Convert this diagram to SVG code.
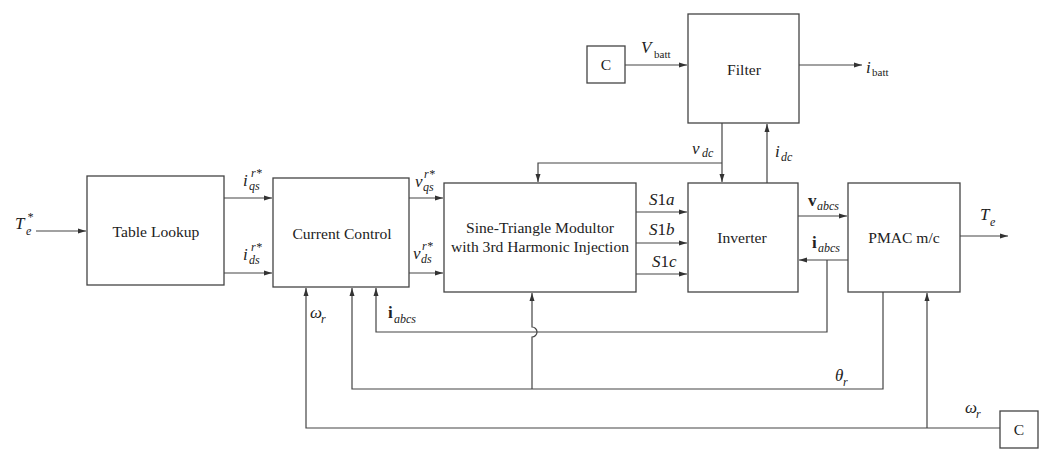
<svg xmlns="http://www.w3.org/2000/svg" width="1048" height="467" viewBox="0 0 1048 467">
<style>
.box{fill:#fff;stroke:#444;stroke-width:1.3}
.ln{fill:none;stroke:#444;stroke-width:1.2}
.t{font-family:"Liberation Serif","Times New Roman","DejaVu Serif",serif;font-size:15.6px;fill:#222;text-anchor:middle}
.m{font-family:"Liberation Serif","Times New Roman","DejaVu Serif",serif;font-style:italic;font-size:17px;fill:#222}
.s{font-family:"Liberation Serif","Times New Roman","DejaVu Serif",serif;font-style:italic;font-size:12px;fill:#222}
.r{font-family:"Liberation Serif","Times New Roman","DejaVu Serif",serif;font-size:11px;fill:#222}
.b{font-family:"Liberation Serif","Times New Roman","DejaVu Serif",serif;font-weight:bold;font-size:17px;fill:#222}
</style>
<defs>
<marker id="ah" markerUnits="userSpaceOnUse" markerWidth="9" markerHeight="6" refX="8" refY="3" orient="auto">
<path d="M0,0.5 L8,3 L0,5.5 z" fill="#333"/>
</marker>
</defs>
<g id="connectors">
<path class="ln" d="M36,231 H86" marker-end="url(#ah)"/>
<path class="ln" d="M224,198 H272" marker-end="url(#ah)"/>
<path class="ln" d="M224,273 H272" marker-end="url(#ah)"/>
<path class="ln" d="M409,198 H443" marker-end="url(#ah)"/>
<path class="ln" d="M409,273 H443" marker-end="url(#ah)"/>
<path class="ln" d="M636,212 H687" marker-end="url(#ah)"/>
<path class="ln" d="M636,243 H687" marker-end="url(#ah)"/>
<path class="ln" d="M636,274 H687" marker-end="url(#ah)"/>
<path class="ln" d="M798,216 H847" marker-end="url(#ah)"/>
<path class="ln" d="M848,260 H799" marker-end="url(#ah)"/>
<path class="ln" d="M960,236 H1008" marker-end="url(#ah)"/>
<path class="ln" d="M625,65 H687" marker-end="url(#ah)"/>
<path class="ln" d="M799,65 H862" marker-end="url(#ah)"/>
<path class="ln" d="M722,123 V182" marker-end="url(#ah)"/>
<path class="ln" d="M722,163 H538 V182" marker-end="url(#ah)"/>
<path class="ln" d="M767,183 V124" marker-end="url(#ah)"/>
<path class="ln" d="M827,260 V332 H376 V288" marker-end="url(#ah)"/>
<path class="ln" d="M883,292 V389 H352 V288" marker-end="url(#ah)"/>
<path class="ln" d="M532,389 V337 A5,5 0 0 0 532,327 V293" marker-end="url(#ah)"/>
<path class="ln" d="M1000,428 H306 V288" marker-end="url(#ah)"/>
<path class="ln" d="M927,428 V293" marker-end="url(#ah)"/>
</g>
<g id="table-lookup"><rect class="box" x="87" y="176" width="137" height="109"/><text class="t" x="156" y="237">Table Lookup</text></g>
<g id="current-control"><rect class="box" x="273" y="178" width="136" height="109"/><text class="t" x="342" y="239">Current Control</text></g>
<g id="sine-triangle"><rect class="box" x="444" y="183" width="192" height="109"/><text class="t" x="540" y="233">Sine-Triangle Modultor</text><text class="t" x="540" y="252">with 3rd Harmonic Injection</text></g>
<g id="inverter"><rect class="box" x="688" y="183" width="110" height="109"/><text class="t" x="742" y="243">Inverter</text></g>
<g id="pmac"><rect class="box" x="848" y="183" width="112" height="109"/><text class="t" x="904" y="243">PMAC m/c</text></g>
<g id="filter"><rect class="box" x="688" y="14" width="111" height="109"/><text class="t" x="744" y="75">Filter</text></g>
<g id="c-top"><rect class="box" x="587" y="46" width="38" height="37"/><text class="t" x="606" y="70">C</text></g>
<g id="c-bottom"><rect class="box" x="1000" y="411" width="38" height="37"/><text class="t" x="1019" y="435">C</text></g>
<g id="labels">
<text class="m" x="15" y="229">T</text><text class="s" x="27" y="221">*</text><text class="s" x="26" y="235">e</text>
<text class="m" x="243" y="186">i</text><text class="s" x="251" y="177">r*</text><text class="s" x="249" y="190">qs</text>
<text class="m" x="243" y="260">i</text><text class="s" x="251" y="251">r*</text><text class="s" x="249" y="264">ds</text>
<text class="m" x="415" y="187">v</text><text class="s" x="424" y="178">r*</text><text class="s" x="423" y="191">qs</text>
<text class="m" x="413" y="259">v</text><text class="s" x="422" y="250">r*</text><text class="s" x="421" y="263">ds</text>
<text class="m" x="649" y="205">S<tspan font-style="normal">1</tspan>a</text>
<text class="m" x="649" y="235">S<tspan font-style="normal">1</tspan>b</text>
<text class="m" x="652" y="267">S<tspan font-style="normal">1</tspan>c</text>
<text class="b" x="808" y="206">v</text><text class="s" x="817" y="210">abcs</text>
<text class="b" x="812" y="248">i</text><text class="s" x="818" y="252">abcs</text>
<text class="m" x="980" y="220">T</text><text class="s" x="990" y="226">e</text>
<text class="m" x="835" y="381">θ</text><text class="s" x="843" y="386">r</text>
<text class="m" x="965" y="413">ω</text><text class="s" x="976" y="418">r</text>
<text class="m" x="310" y="318">ω</text><text class="s" x="321" y="323">r</text>
<text class="b" x="388" y="318">i</text><text class="s" x="394" y="323">abcs</text>
<text class="m" x="641" y="53">V</text><text class="r" x="654" y="58">batt</text>
<text class="m" x="866" y="73">i</text><text class="r" x="872" y="76">batt</text>
<text class="m" x="692" y="154">v</text><text class="s" x="702" y="157">dc</text>
<text class="m" x="775" y="157">i</text><text class="s" x="781" y="161">dc</text>
</g>
</svg>
